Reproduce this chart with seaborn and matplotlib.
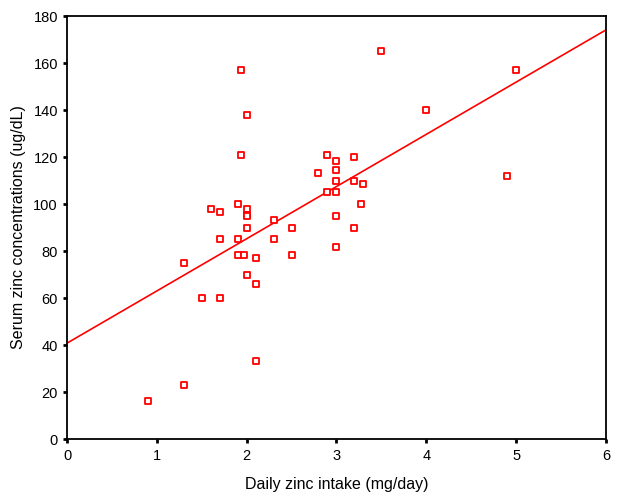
import matplotlib
matplotlib.use("Agg")
import matplotlib.pyplot as plt
import seaborn as sns
import pandas as pd

# Ingestão diária de zinco (mg/dia) e zinco sérico (ug/dL)
intake = [0.9, 1.3, 1.3, 1.5, 1.7, 1.7, 1.7, 1.6, 1.9, 1.9, 1.9, 1.97,
          1.94, 1.94, 2.0, 2.0, 2.0, 2.0, 2.0, 2.0, 2.1, 2.1, 2.1,
          2.3, 2.3, 2.5, 2.5, 2.8, 2.9, 2.9, 3.0, 3.0, 3.0, 3.0, 3.0, 3.0,
          3.2, 3.2, 3.2, 3.27, 3.3, 3.5, 4.0, 4.9, 5.0]
serum = [16, 23, 75, 60, 60, 85, 96.5, 98, 100, 85, 78.5, 78.5,
         121, 157, 138, 98, 95.5, 95, 90, 70, 77, 66, 33,
         93, 85, 90, 78.5, 113, 121, 105, 118.5, 114.5, 110, 105, 95, 81.5,
         120, 110, 90, 100, 108.5, 165, 140, 112, 157]

df = pd.DataFrame({"intake": intake, "serum": serum})

plt.rcParams["font.family"] = ["Liberation Sans", "DejaVu Sans"]

fig = plt.figure(figsize=(6.17, 4.93), dpi=100)
ax = fig.add_axes([0.1086, 0.1095, 0.8734, 0.858])
ax.set_xlim(0, 6)
ax.set_ylim(0, 180)

sns.regplot(
    data=df, x="intake", y="serum", ax=ax, ci=None, truncate=False,
    marker="s",
    scatter_kws={"s": 22, "facecolors": "white", "edgecolors": "red",
                 "linewidths": 1.3, "alpha": 1, "zorder": 3},
    line_kws={"color": "red", "lw": 1.2, "zorder": 2},
)

ax.set_xlim(0, 6)
ax.set_ylim(0, 180)
ax.set_xticks(range(0, 7))
ax.set_yticks(range(0, 181, 20))
ax.tick_params(axis="both", direction="out", length=3, width=2,
               labelsize=10.5, color="black")
ax.tick_params(axis="x", pad=4)
for s in ax.spines.values():
    s.set_linewidth(1.3)
    s.set_color("black")

ax.set_xlabel("Daily zinc intake (mg/day)", fontsize=11.5, labelpad=10)
ax.set_ylabel("Serum zinc concentrations (ug/dL)", fontsize=11.5, labelpad=5)

fig.savefig("out.png", dpi=100)
